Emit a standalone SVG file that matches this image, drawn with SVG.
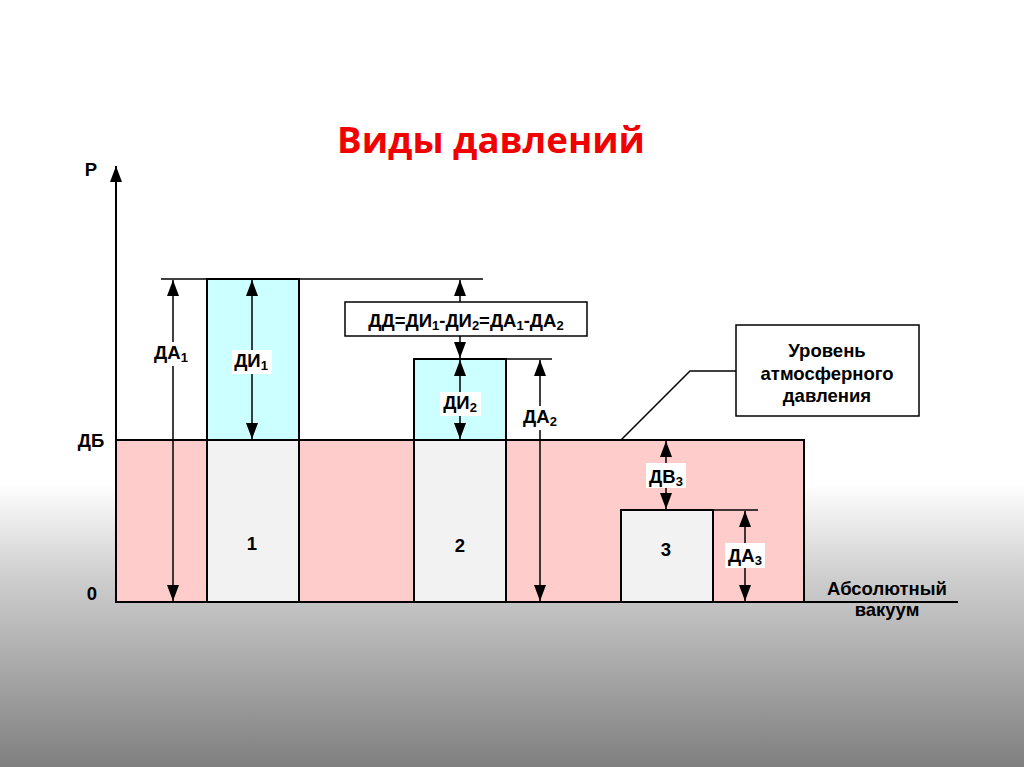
<svg xmlns="http://www.w3.org/2000/svg" width="1024" height="767" viewBox="0 0 1024 767">
<defs>
<linearGradient id="bg" x1="0" y1="0" x2="0" y2="1">
<stop offset="0" stop-color="#ffffff"/>
<stop offset="0.63" stop-color="#ffffff"/>
<stop offset="0.75" stop-color="#cfcfcf"/>
<stop offset="1" stop-color="#7f7f7f"/>
</linearGradient>
<marker id="ah" markerUnits="userSpaceOnUse" markerWidth="16" markerHeight="12" refX="16" refY="6" orient="auto-start-reverse" viewBox="0 0 16 12">
<path d="M0,0 L16,6 L0,12 z" fill="#000"/>
</marker>
</defs>
<style>
.lbl{font-family:"Liberation Sans",Arial,sans-serif;font-weight:bold;font-size:18.5px;fill:#000;text-anchor:middle}
.sub{font-size:13px}
.box{stroke:#000;stroke-width:2}
.ln{stroke:#000;stroke-width:1.5;fill:none}
.arr{stroke:#000;stroke-width:1.5;fill:none;marker-start:url(#ah);marker-end:url(#ah)}
.wb{fill:#fff}
</style>
<rect x="0" y="0" width="1024" height="767" fill="url(#bg)"/>
<text x="491" y="153" font-family="'Open Sans',sans-serif" font-weight="bold" font-size="36" fill="#f00000" text-anchor="middle" textLength="308" lengthAdjust="spacingAndGlyphs">Виды давлений</text>

<g id="atm-region">
<rect x="116" y="440" width="688" height="162" fill="#ffcccc" class="box"/>
</g>
<g id="bar1">
<rect x="207" y="279" width="92" height="161" fill="#ccffff" class="box"/>
<rect x="207" y="440" width="92" height="162" fill="#f2f2f2" class="box"/>
<text class="lbl" x="252" y="550">1</text>
</g>
<g id="bar2">
<rect x="414" y="359" width="92" height="81" fill="#ccffff" class="box"/>
<rect x="414" y="440" width="92" height="162" fill="#f2f2f2" class="box"/>
<text class="lbl" x="460" y="552">2</text>
</g>
<g id="bar3">
<rect x="621" y="510" width="92" height="92" fill="#f2f2f2" class="box"/>
<text class="lbl" x="666" y="556">3</text>
</g>

<g id="axes">
<line x1="116" y1="602" x2="958" y2="602" class="box"/>
<line x1="116" y1="602" x2="116" y2="166" class="box" marker-end="url(#ah)"/>
<text class="lbl" x="91" y="176">Р</text>
<text class="lbl" x="91" y="447">ДБ</text>
<text class="lbl" x="92" y="600">0</text>
<text class="lbl" x="887" y="595">Абсолютный</text>
<text class="lbl" x="887" y="616">вакуум</text>
</g>

<g id="connectors">
<line x1="161" y1="279" x2="483" y2="279" class="ln"/>
<line x1="506" y1="359" x2="552" y2="359" class="ln"/>
<line x1="713" y1="510" x2="758" y2="510" class="ln"/>
<line x1="173" y1="280" x2="173" y2="601" class="arr"/>
<line x1="252" y1="280" x2="252" y2="439" class="arr"/>
<line x1="460" y1="360" x2="460" y2="439" class="arr"/>
<line x1="540" y1="360" x2="540" y2="601" class="arr"/>
<line x1="666" y1="441" x2="666" y2="509" class="arr"/>
<line x1="745" y1="511" x2="745" y2="601" class="arr"/>
<line x1="460" y1="302" x2="460" y2="280" class="ln" marker-end="url(#ah)"/>
<line x1="460" y1="336" x2="460" y2="358" class="ln" marker-end="url(#ah)"/>
<polyline points="621,440 690,371 736,371" class="ln"/>
</g>

<g id="label-DA1">
<rect x="152" y="342" width="40" height="24" class="wb"/>
<text class="lbl" x="171" y="359">ДА<tspan class="sub" dy="3">1</tspan></text>
</g>
<g id="label-DI1">
<rect x="232" y="350" width="40" height="24" class="wb"/>
<text class="lbl" x="251" y="367">ДИ<tspan class="sub" dy="3">1</tspan></text>
</g>
<g id="label-DI2">
<rect x="440" y="392" width="41" height="24" class="wb"/>
<text class="lbl" x="460" y="409">ДИ<tspan class="sub" dy="3">2</tspan></text>
</g>
<g id="label-DA2">
<rect x="520" y="406" width="41" height="24" class="wb"/>
<text class="lbl" x="540" y="423">ДА<tspan class="sub" dy="3">2</tspan></text>
</g>
<g id="label-DV3">
<rect x="646" y="463" width="40" height="25" class="wb"/>
<text class="lbl" x="666" y="483">ДВ<tspan class="sub" dy="3">3</tspan></text>
</g>
<g id="label-DA3">
<rect x="725" y="543" width="40" height="25" class="wb"/>
<text class="lbl" x="745" y="562">ДА<tspan class="sub" dy="3">3</tspan></text>
</g>

<g id="formula">
<rect x="345" y="302" width="242" height="34" fill="#fff" class="ln"/>
<text class="lbl" x="466" y="327">ДД=ДИ<tspan class="sub" dy="3">1</tspan><tspan dy="-3">-ДИ</tspan><tspan class="sub" dy="3">2</tspan><tspan dy="-3">=ДА</tspan><tspan class="sub" dy="3">1</tspan><tspan dy="-3">-ДА</tspan><tspan class="sub" dy="3">2</tspan></text>
</g>

<g id="callout">
<rect x="736" y="325" width="183" height="91" fill="#fff" class="ln"/>
<text class="lbl" x="827" y="357">Уровень</text>
<text class="lbl" x="827" y="380">атмосферного</text>
<text class="lbl" x="827" y="402">давления</text>
</g>
</svg>
